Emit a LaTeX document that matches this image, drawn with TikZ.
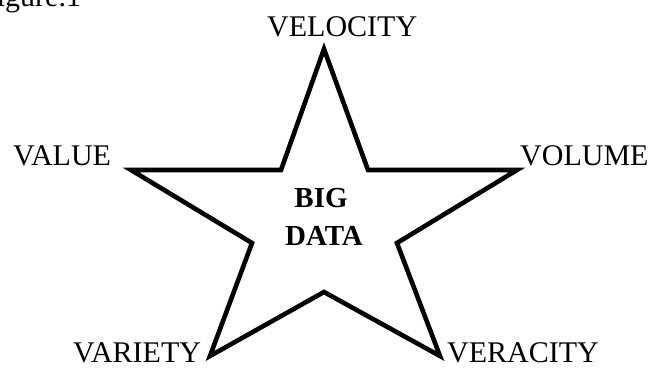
\documentclass[tikz,border=0pt]{standalone}
\usepackage{fontspec}
\setmainfont{Liberation Serif}
\begin{document}
\begin{tikzpicture}[x=1pt,y=-1pt,
  lbl/.style={inner sep=0pt,anchor=base west,font=\fontsize{30}{36}\selectfont},
  ctr/.style={inner sep=0pt,anchor=base,font=\fontsize{29}{36}\selectfont\bfseries},
  starline/.style={line width=4.6pt,line join=miter,miter limit=10}]
\useasboundingbox (0,0) rectangle (651,368);
% star vertices
\coordinate (top) at (324,49);
\coordinate (uri) at (368,170);
\coordinate (rt) at (517,170);
\coordinate (lri) at (397,243);
\coordinate (brt) at (440,356);
\coordinate (bi) at (324,292);
\coordinate (blt) at (210,356);
\coordinate (lli) at (252,243);
\coordinate (lt) at (131,170);
\coordinate (uli) at (281,170);
\draw[starline] (top) -- (uri) -- (rt) -- (lri) -- (brt) -- (bi) -- (blt) -- (lli) -- (lt) -- (uli) -- cycle;
% labels
\node[lbl] (fig) at (-20,6) {Figure.1};
\node[lbl] (velocity) at (267,36) {VELOCITY};
\node[lbl] (value) at (13,165) {VALUE};
\node[lbl] (volume) at (520,165) {VOLUME};
\node[lbl] (variety) at (73,362) {VARIETY};
\node[lbl] (veracity) at (447,362) {VERACITY};
\node[ctr] (big) at (321,207) {BIG};
\node[ctr] (data) at (324,245) {DATA};
\end{tikzpicture}
\end{document}
